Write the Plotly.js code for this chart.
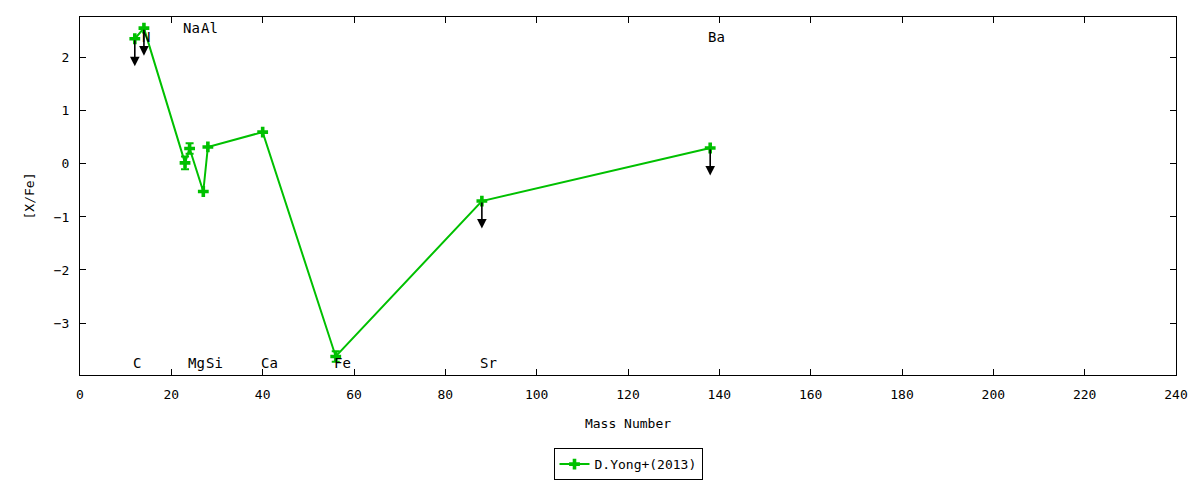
<!DOCTYPE html>
<html>
<head>
<meta charset="utf-8">
<script src="https://cdn.plot.ly/plotly-3.0.1.min.js"></script>
<style>html,body{margin:0;padding:0;background:#fff;}#chart{width:1200px;height:480px;}</style>
</head>
<body>
<div id="chart"></div>
<script>
const elements = ['C','N','Na','Mg','Al','Si','Ca','Fe','Sr','Ba'];
const massNumber = [12,14,23,24,27,28,40,56,88,138];
const xfe = [2.36,2.56,0.02,0.29,-0.52,0.32,0.60,-3.63,-0.70,0.30];
const xfeErr = [0,0,0.12,0.10,0,0,0,0.10,0,0];
const upperLimit = [true,true,false,false,false,false,false,false,true,true];
const labelY = [-3.75,2.40,2.57,-3.75,2.57,-3.75,-3.75,-3.75,-3.75,2.40];
const limitArrowLength = 0.52;
const seriesName = 'D.Yong+(2013)';

const FONT = 'DejaVu Sans Mono, monospace';
const FS = 13;
const green = '#00c000';

const trace = {
  x: massNumber,
  y: xfe,
  name: seriesName,
  type: 'scatter',
  mode: 'lines+markers',
  line: {color: green, width: 2},
  marker: {symbol: 'cross', size: 9, color: green},
  error_y: {type: 'data', array: xfeErr, visible: true, color: green, thickness: 2, width: 4},
  hoverinfo: 'x+y'
};

const annotations = [];
elements.forEach((el, i) => {
  annotations.push({
    x: massNumber[i], y: labelY[i], xref: 'x', yref: 'y',
    text: el, showarrow: false, xanchor: 'left', yanchor: 'middle', xshift: -4,
    font: {family: FONT, size: FS + 1, color: '#000'}
  });
  if (upperLimit[i]) {
    annotations.push({
      x: massNumber[i], y: xfe[i] - limitArrowLength, xref: 'x', yref: 'y',
      ax: massNumber[i], ay: xfe[i], axref: 'x', ayref: 'y',
      text: '', showarrow: true, arrowhead: 2, arrowsize: 1.2, arrowwidth: 1.6,
      arrowcolor: '#000', standoff: 0, startstandoff: 0
    });
  }
});

const axisCommon = {
  showgrid: false, zeroline: false, showline: true, linecolor: '#000', linewidth: 1,
  mirror: 'ticks', ticks: 'inside', ticklen: 6, tickcolor: '#000', tickwidth: 1,
  tickfont: {family: FONT, size: FS, color: '#000'}, automargin: false
};

const layout = {
  width: 1200, height: 480,
  paper_bgcolor: '#fff', plot_bgcolor: '#fff',
  margin: {l: 80, r: 24, t: 17, b: 105},
  font: {family: FONT, size: FS, color: '#000'},
  xaxis: Object.assign({}, axisCommon, {
    range: [0, 240], dtick: 20, tick0: 0, ticklabelstandoff: 7,
    title: {text: 'Mass Number', font: {family: FONT, size: FS}, standoff: 18}
  }),
  yaxis: Object.assign({}, axisCommon, {
    range: [-3.98, 2.77], dtick: 1, tick0: 0, ticklabelstandoff: 7,
    title: {text: '[X/Fe]', font: {family: FONT, size: FS}, standoff: 16}
  }),
  showlegend: true,
  legend: {
    x: 0.5, xanchor: 'center', xref: 'paper',
    y: 0.033, yanchor: 'middle', yref: 'container', orientation: 'h',
    bordercolor: '#000', borderwidth: 1, bgcolor: '#fff',
    font: {family: FONT, size: FS}
  },
  annotations: annotations
};

Plotly.newPlot('chart', [trace], layout, {displayModeBar: false, staticPlot: true});
</script>
</body>
</html>
